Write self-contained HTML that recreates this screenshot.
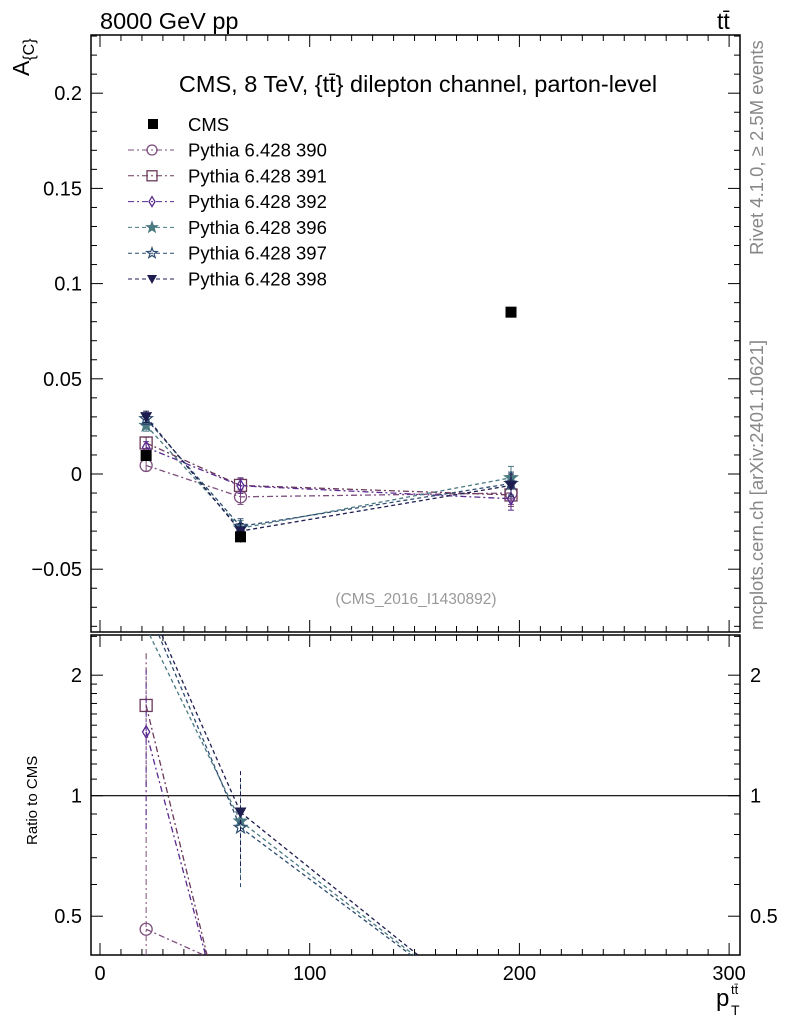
<!DOCTYPE html>
<html><head><meta charset="utf-8"><style>
body{margin:0;background:#fff;overflow:hidden}
svg{display:block;font-family:"Liberation Sans",sans-serif}
</style></head><body>
<svg id="c" width="786" height="1024" viewBox="0 0 786 1024">
<text x="100" y="29" font-size="23.5">8000 GeV pp</text>
<text x="717" y="29" font-size="23">tt̄</text>
<text x="418" y="92" font-size="23.5" text-anchor="middle">CMS, 8 TeV, {tt̄} dilepton channel, parton-level</text>
<text x="416" y="604" font-size="15.5" fill="#999" text-anchor="middle">(CMS_2016_I1430892)</text>
<text transform="translate(763,255) rotate(-90)" font-size="18.5" fill="#888">Rivet 4.1.0, ≥ 2.5M events</text>
<text transform="translate(763,630) rotate(-90)" font-size="18.5" fill="#888">mcplots.cern.ch [arXiv:2401.10621]</text>
<text transform="translate(29,76) rotate(-90)" font-size="23">A<tspan font-size="16" dy="5">{C}</tspan></text>
<text transform="translate(37,845) rotate(-90)" font-size="15">Ratio to CMS</text>
<g>
<text x="716" y="1006" font-size="24">p</text>
<text x="731" y="1015" font-size="14">T</text>
<text x="731" y="994" font-size="13">tt̄</text>
</g>
<g id="g"></g>
</svg>
<script>
const xCenters=[22,67,196];
const cmsVals=[0.0097,-0.0330,0.0850];
const cmsErr=[0.002,0.003,0.002];
const mcNames=["Pythia 6.428 390","Pythia 6.428 391","Pythia 6.428 392","Pythia 6.428 396","Pythia 6.428 397","Pythia 6.428 398"];
const mc390=[0.0045,-0.0120,-0.0100];
const mc391=[0.0163,-0.0060,-0.0110];
const mc392=[0.0140,-0.0062,-0.0130];
const mc396=[0.0255,-0.0285,-0.0020];
const mc397=[0.0290,-0.0275,-0.0050];
const mc398=[0.0300,-0.0300,-0.0060];
const mcErr=[0.003,0.004,0.006];
const yTicks=[-0.05,0,0.05,0.1,0.15,0.2];
const yTickLabels=["−0.05","0","0.05","0.1","0.15","0.2"];
const xTicks=[0,100,200,300];
const rTicks=[0.5,1,2];
const ratioFloor=0.26;
const series=[mc390,mc391,mc392,mc396,mc397,mc398];
const colors=["#7d4f7d","#6a3858","#5a2a90","#4a7a82","#2f4d70","#1d1d50"];
const dashes=["6,3,2,3","6,3,2,3","6,3,2,3","4,3","4,3","4,3"];
const markers=["circle","square","diamond","star","starOpen","tri"];
const NS="http://www.w3.org/2000/svg";
const g=document.getElementById('g');
const L=91,R=740,T=35,B=632,RT=635,RB=955;
const X=v=>100+v*2.097;
const Y=v=>474-v*1904;
const rMin=0.40,rMax=2.52;
const RY=v=>RB-(Math.log(v)-Math.log(rMin))/(Math.log(rMax)-Math.log(rMin))*(RB-RT);
function el(t,a,p){const e=document.createElementNS(NS,t);for(const k in a)e.setAttribute(k,a[k]);(p||g).appendChild(e);return e;}
function clipSeg(x1,y1,x2,y2,top,bot){
 const f=y=>x1+(x2-x1)*(y-y1)/(y2-y1);
 if((y1<top&&y2<top)||(y1>bot&&y2>bot))return null;
 if(y1<top){x1=f(top);y1=top;}else if(y1>bot){const nx=f(bot);x1=nx;y1=bot;}
 const g2=y=>x1+(x2-x1)*(y-y1)/(y2-y1);
 if(y2<top){x2=g2(top);y2=top;}else if(y2>bot){x2=g2(bot);y2=bot;}
 return [x1,y1,x2,y2];}
let f=el('rect',{x:L,y:T,width:R-L,height:B-T,fill:'none',stroke:'#000','stroke-width':1.5});


f=el('rect',{x:L,y:RT,width:R-L,height:RB-RT,fill:'none',stroke:'#000','stroke-width':1.5});


for(let v=0;v<=300;v+=10){const maj=v%100==0;const len=maj?12:6;
 [[T,1],[B,-1],[RT,1],[RB,-1]].forEach(([y0,s])=>el('line',{x1:X(v),x2:X(v),y1:y0,y2:y0+s*len,stroke:'#000'}));}
xTicks.forEach(v=>{const t=el('text',{x:X(v),y:980,'font-size':20,'text-anchor':'middle'});t.textContent=v;
 
 });
for(let i=-8;i<=23;i++){const v=i/100;const maj=i%5==0;const len=maj?12:6;
 el('line',{x1:L,x2:L+len,y1:Y(v),y2:Y(v),stroke:'#000'});el('line',{x1:R,x2:R-len,y1:Y(v),y2:Y(v),stroke:'#000'});}
yTicks.forEach((v,i)=>{const t=el('text',{x:82,y:Y(v)+7,'font-size':20,'text-anchor':'end'});t.textContent=yTickLabels[i];
 
 });
[0.4,0.5,0.6,0.7,0.8,0.9,1,1.1,1.2,1.3,1.4,1.5,1.6,1.7,1.8,1.9,2,2.5].forEach(v=>{const maj=rTicks.includes(v);const len=maj?12:6;
 el('line',{x1:L,x2:L+len,y1:RY(v),y2:RY(v),stroke:'#000'});el('line',{x1:R,x2:R-len,y1:RY(v),y2:RY(v),stroke:'#000'});});
rTicks.forEach(v=>{[[82,'end'],[750,'start']].forEach(([x,a])=>{const t=el('text',{x:x,y:RY(v)+7,'font-size':20,'text-anchor':a});t.textContent=v;
 
 });});
const one=el('line',{x1:L,x2:R,y1:RY(1),y2:RY(1),stroke:'#000','stroke-width':1.2});


function marker(p,type,x,y,col,s){s=s||6;
 if(type=='circle')return el('circle',{cx:x,cy:y,r:s,fill:'none',stroke:col,'stroke-width':1.3},p);
 if(type=='square')return el('rect',{x:x-s,y:y-s,width:2*s,height:2*s,fill:'none',stroke:col,'stroke-width':1.3},p);
 if(type=='cms')return el('rect',{x:x-s,y:y-s,width:2*s,height:2*s,fill:col},p);
 if(type=='diamond')return el('polygon',{points:`${x},${y-s} ${x+s*0.6},${y} ${x},${y+s} ${x-s*0.6},${y}`,fill:'none',stroke:col,'stroke-width':1.3},p);
 if(type=='tri')return el('polygon',{points:`${x-s},${y-s*0.8} ${x+s},${y-s*0.8} ${x},${y+s}`,fill:col},p);
 let pts=[];for(let i=0;i<10;i++){const r=i%2?s*0.45:s*1.1;const a=-Math.PI/2+i*Math.PI/5;pts.push((x+r*Math.cos(a)).toFixed(1)+','+(y+r*Math.sin(a)).toFixed(1));}
 return el('polygon',{points:pts.join(' '),fill:type=='star'?col:'none',stroke:col,'stroke-width':1.2},p);}
series.forEach((s,k)=>{
 const gm=el('g',{});
 
 
 el('polyline',{points:s.map((v,i)=>X(xCenters[i])+','+Y(v)).join(' '),fill:'none',stroke:colors[k],'stroke-width':1.3,'stroke-dasharray':dashes[k]},gm);
 s.forEach((v,i)=>{const x=X(xCenters[i]);el('line',{x1:x,x2:x,y1:Y(v-mcErr[i]),y2:Y(v+mcErr[i]),stroke:colors[k]},gm);
  el('line',{x1:x-3,x2:x+3,y1:Y(v-mcErr[i]),y2:Y(v-mcErr[i]),stroke:colors[k]},gm);
  el('line',{x1:x-3,x2:x+3,y1:Y(v+mcErr[i]),y2:Y(v+mcErr[i]),stroke:colors[k]},gm);
  marker(gm,markers[k],x,Y(v),colors[k]);});
 const gr=el('g',{});
 
 
 const rv=s.map((v,i)=>v/cmsVals[i]);
 for(let i=0;i<rv.length-1;i++){
  const a=rv[i]>0?rv[i]:ratioFloor,b=rv[i+1]>0?rv[i+1]:ratioFloor;
  const c=clipSeg(X(xCenters[i]),RY(a),X(xCenters[i+1]),RY(b),RT,RB);
  if(c)el('line',{x1:c[0],y1:c[1],x2:c[2],y2:c[3],stroke:colors[k],'stroke-width':1.3,'stroke-dasharray':dashes[k]},gr);}
 rv.forEach((r,i)=>{if(r<rMin||r>rMax)return;const x=X(xCenters[i]);const e=Math.abs(mcErr[i]/cmsVals[i])*2;
  el('line',{x1:x,x2:x,y1:Math.min(RB,RY(Math.max(r-e,0.05))),y2:Math.max(RT,RY(r+e)),stroke:colors[k],'stroke-dasharray':dashes[k]},gr);
  marker(gr,markers[k],x,RY(r),colors[k]);});
});
const gd=el('g',{});


cmsVals.forEach((v,i)=>{const x=X(xCenters[i]);el('line',{x1:x,x2:x,y1:Y(v-cmsErr[i]),y2:Y(v+cmsErr[i]),stroke:'#000'},gd);marker(gd,'cms',x,Y(v),'#000',5.5);});
const lg=el('g',{});


marker(lg,'cms',153,124,'#000',5);
let t=el('text',{x:188,y:131,'font-size':18.5},lg);t.textContent='CMS';
mcNames.forEach((n,k)=>{const y=150+k*25.8;
 const e=el('g',{},lg);
 
 
 el('line',{x1:128,x2:174,y1:y,y2:y,stroke:colors[k],'stroke-dasharray':dashes[k]},e);
 marker(e,markers[k],152,y,colors[k],5);
 const tt=el('text',{x:188,y:y+6.5,'font-size':18.5},e);tt.textContent=n;});
</script>
</body></html>
